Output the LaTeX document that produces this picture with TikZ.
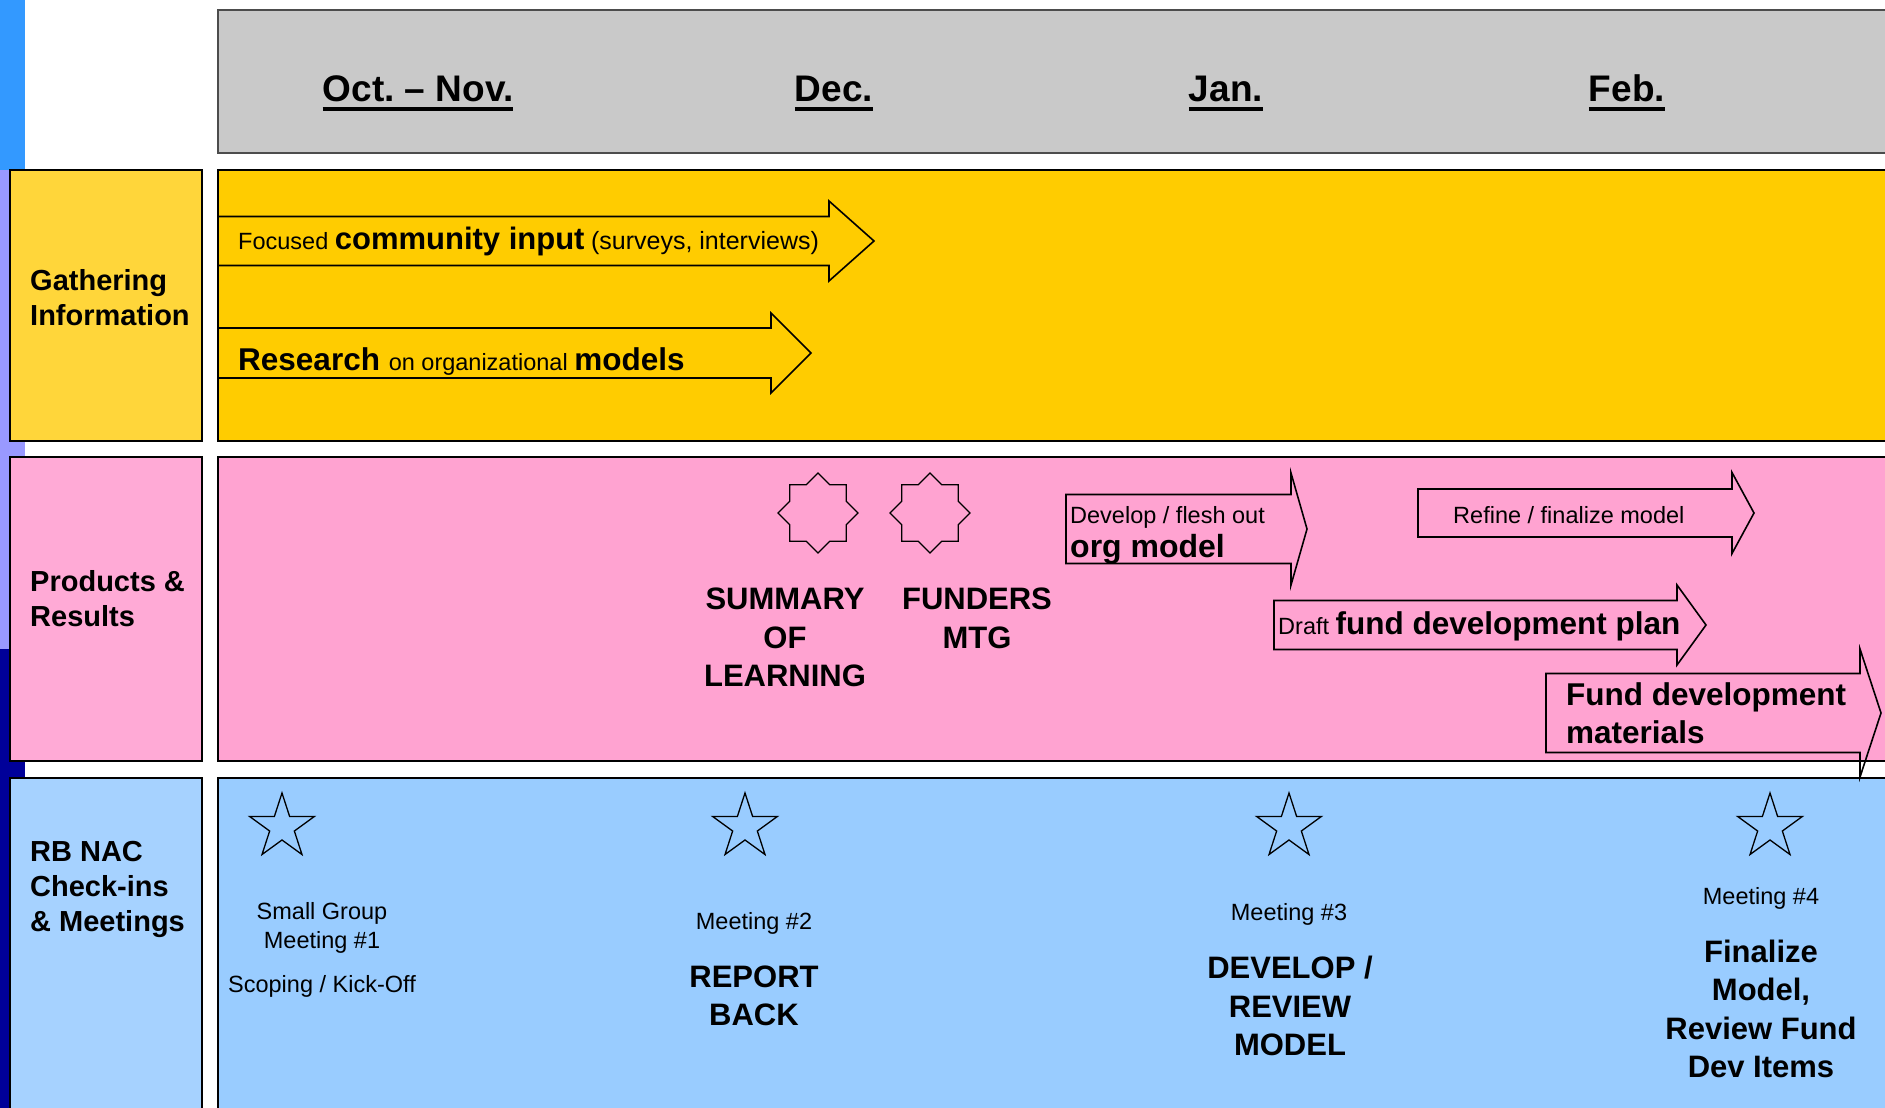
\documentclass[tikz,border=0pt]{standalone}
\usepackage{fontspec}
\setmainfont{Liberation Sans}
\usetikzlibrary{shapes.geometric}
\frenchspacing

\definecolor{hdrgray}{HTML}{C9C9C9}
\definecolor{gold}{HTML}{FFCC00}
\definecolor{goldlt}{HTML}{FFD63A}
\definecolor{pinkbg}{HTML}{FFA3D1}
\definecolor{pinklt}{HTML}{FFAAD6}
\definecolor{skyblue}{HTML}{99CCFF}
\definecolor{skylt}{HTML}{A6D2FF}
\definecolor{barblue}{HTML}{3399FF}
\definecolor{barlav}{HTML}{9999FF}
\definecolor{barnavy}{HTML}{000099}

\newcommand\txtn{\fontsize{23.5}{28}\selectfont\mdseries}
\newcommand\txtb{\fontsize{31.5}{37}\selectfont\bfseries}
\newcommand\ulmonth[1]{\setbox0\hbox{#1}\rlap{\rule[-9pt]{\wd0}{4pt}}\box0}
% x left, x head, x tip, y mid, body half, head half
\newcommand\fatarrow[6]{\draw[arr] (#1,#4-#5) -- (#2,#4-#5) -- (#2,#4-#6) -- (#3,#4) -- (#2,#4+#6) -- (#2,#4+#5) -- (#1,#4+#5) -- cycle;}

\begin{document}
\begin{tikzpicture}[x=1pt,y=-1pt]
    \tikzset{lane/.style={draw=black, line width=2}}
    \tikzset{lbl/.style={font=\fontsize{29}{35}\selectfont\bfseries, align=left, anchor=west, inner sep=0}}
    \tikzset{month/.style={font=\fontsize{37}{44}\selectfont\bfseries, anchor=base, inner sep=0}}
    \tikzset{big/.style={font=\fontsize{31}{38.5}\selectfont\bfseries, align=center, inner sep=0}}
    \tikzset{small/.style={font=\fontsize{23.5}{29}\selectfont, align=center, inner sep=0}}
    \tikzset{arr/.style={draw=black, line width=1.6, line join=miter}}
    \tikzset{burst/.style={draw=black, line width=1.3, star, star points=8, star point ratio=1.307, minimum size=80pt, inner sep=0}}
    \tikzset{meet/.style={draw=black, line width=1.3, star, star points=5, star point ratio=2.618, minimum size=68pt, inner sep=0}}

    \clip (0,0) rectangle (1885,1108);

    % side bar
    \fill[barblue] (0,0) rectangle (25,170);
    \fill[barlav] (0,170) rectangle (25,649);
    \fill[barnavy] (0,649) rectangle (25,1108);

    % lanes
    \draw[lane, draw=black!70, fill=hdrgray] (218,10) rectangle (1900,153);
    \draw[lane, fill=goldlt] (10,170) rectangle (202,441);
    \draw[lane, fill=gold] (218,170) rectangle (1900,441);
    \draw[lane, fill=pinklt] (10,457) rectangle (202,761);
    \draw[lane, fill=pinkbg] (218,457) rectangle (1900,761);
    \draw[lane, fill=skylt] (10,778) rectangle (202,1120);
    \draw[lane, fill=skyblue] (218,778) rectangle (1900,1120);

    \node[month] (octnov) at (418,102) {\ulmonth{Oct. -- Nov.}};
    \node[month] (dec) at (834,102) {\ulmonth{Dec.}};
    \node[month] (jan) at (1226,102) {\ulmonth{Jan.}};
    \node[month] (feb) at (1627,102) {\ulmonth{Feb.}};

    \node[lbl] (gather) at (30,298) {Gathering\\Information};
    \node[lbl] (products) at (30,599) {Products \&\\Results};
    \node[lbl] (checkins) at (30,889) {RB NAC\\Check-ins\\\& Meetings};

    % gathering
    \fatarrow{218}{829}{874}{241}{24.5}{40}
    \fatarrow{218}{771}{811}{353}{25}{40}
    \node[anchor=base west, inner sep=0] (input) at (238,249)
        {\txtn Focused {\fontsize{31}{36}\selectfont\bfseries community input} {\fontsize{25}{28}\selectfont(surveys, interviews)}};
    \node[anchor=base west, inner sep=0] (research) at (238,370)
        {\txtb Research \txtn on organizational \txtb models};

    % products
    \node[burst] (summary) at (818,513) {};
    \node[burst] (funders) at (930,513) {};
    \node[big, anchor=north] (summarytxt) at (785,588) {SUMMARY\\OF\\LEARNING};
    \node[big, anchor=north] (funderstxt) at (977,588) {FUNDERS\\MTG};

    \fatarrow{1066}{1291}{1307}{529}{34.5}{56}
    \fatarrow{1418}{1732}{1754}{513}{24}{40.5}
    \fatarrow{1274}{1677}{1706}{625}{24.5}{40}
    \fatarrow{1546}{1860}{1881}{713}{39.5}{64}
    \node[anchor=base west, inner sep=0] (develop) at (1070,523) {\txtn Develop / flesh out};
    \node[anchor=base west, inner sep=0] (orgmodel) at (1070,557) {\fontsize{32}{38}\selectfont\bfseries org model};
    \node[anchor=base west, inner sep=0] (refine) at (1453,523) {\txtn Refine / finalize model};
    \node[anchor=base west, inner sep=0] (draft) at (1278,634) {\txtn Draft {\fontsize{31.5}{36}\selectfont\bfseries fund development plan}};
    \node[anchor=base west, inner sep=0] (fundmat) at (1566,705) {\fontsize{31.5}{36}\selectfont\bfseries Fund development};
    \node[anchor=base west, inner sep=0] (fundmat2) at (1566,743) {\fontsize{31.5}{36}\selectfont\bfseries materials};

    % meetings
    \node[meet] (m1) at (282,827) {};
    \node[meet] (m2) at (745,827) {};
    \node[meet] (m3) at (1289,827) {};
    \node[meet] (m4) at (1770,827) {};

    \node[small] (m1txt) at (322,928) {Small Group\\Meeting \#1};
    \node[small] (m1sub) at (322,986) {Scoping / Kick-Off};
    \node[small] (m2txt) at (754,923) {Meeting \#2};
    \node[big] (m2sub) at (754,996) {REPORT\\BACK};
    \node[small] (m3txt) at (1289,914) {Meeting \#3};
    \node[big] (m3sub) at (1290,1006) {DEVELOP /\\REVIEW\\MODEL};
    \node[small] (m4txt) at (1761,898) {Meeting \#4};
    \node[big] (m4sub) at (1761,1009) {Finalize\\Model,\\Review Fund\\Dev Items};
\end{tikzpicture}
\end{document}
